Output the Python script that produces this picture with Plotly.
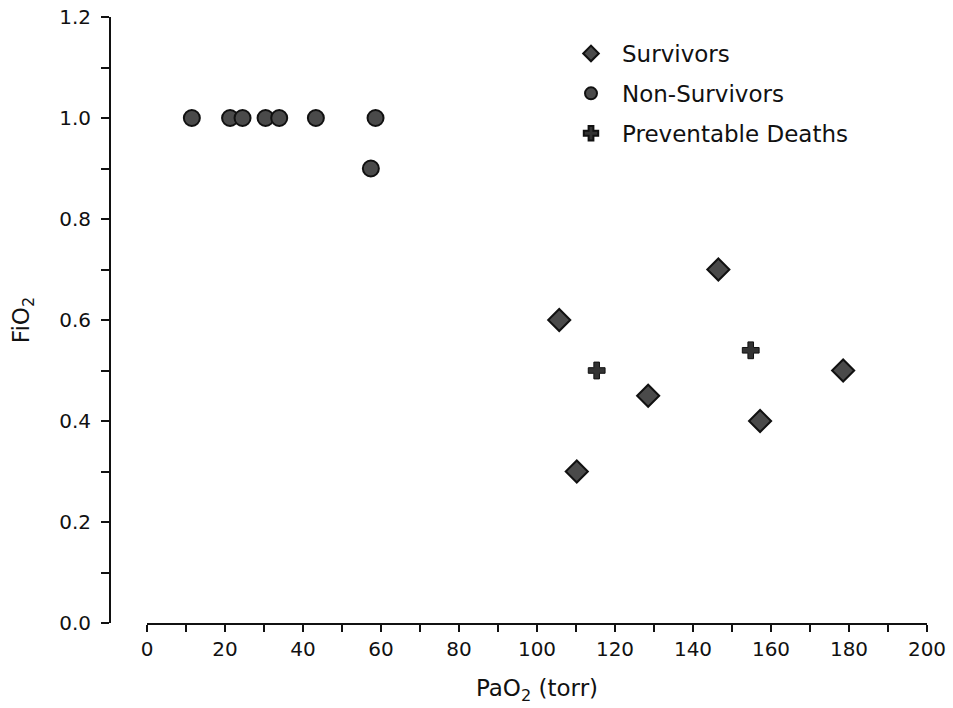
import plotly.graph_objects as go

# Data
surv_x = [105.7, 110.2, 128.5, 146.5, 157.2, 178.5]
surv_y = [0.60, 0.30, 0.45, 0.70, 0.40, 0.50]

nonsurv_x = [11.5, 21.3, 24.5, 30.4, 33.9, 43.3, 58.6, 57.4]
nonsurv_y = [1.0, 1.0, 1.0, 1.0, 1.0, 1.0, 1.0, 0.9]

prev_x = [115.3, 154.8]
prev_y = [0.50, 0.54]

x_ticks = [0, 20, 40, 60, 80, 100, 120, 140, 160, 180, 200]
y_ticks = [0.0, 0.2, 0.4, 0.6, 0.8, 1.0, 1.2]

FONT = "DejaVu Sans, Arial, sans-serif"
W, H = 953, 708
ML, MR, MT, MB = 100, 26, 17, 85
PW = W - ML - MR
PH = H - MT - MB

fig = go.Figure()
fig.add_trace(go.Scatter(
    x=surv_x, y=surv_y, mode="markers", name="Survivors", legendgroup="a",
    marker=dict(symbol="diamond", size=17, color="#4a4a4a",
                line=dict(color="#111", width=2)),
))
fig.add_trace(go.Scatter(
    x=nonsurv_x, y=nonsurv_y, mode="markers", name="Non-Survivors", legendgroup="b",
    marker=dict(symbol="circle", size=16, color="#4a4a4a",
                line=dict(color="#111", width=2)),
))
fig.add_trace(go.Scatter(
    x=prev_x, y=prev_y, mode="markers", name="Preventable Deaths", legendgroup="c",
    marker=dict(symbol="cross", size=14, color="#333",
                line=dict(color="#111", width=1)),
))

fig.update_layout(
    width=W, height=H,
    margin=dict(l=ML, r=MR, t=MT, b=MB),
    paper_bgcolor="white", plot_bgcolor="white",
    font=dict(family=FONT, size=20, color="#111"),
    showlegend=True,
    legend=dict(x=(560 - ML) / PW, y=1 - (32 - MT) / PH, xanchor="left", yanchor="top",
                bgcolor="rgba(0,0,0,0)", font=dict(size=23), tracegroupgap=7,
                itemwidth=52, itemsizing="constant"),
    xaxis=dict(
        domain=[(147 - ML) / PW, 1], range=[0, 200], automargin=False,
        showline=True, linecolor="#111", linewidth=2, mirror=False,
        showgrid=False, zeroline=False,
        tickmode="array", tickvals=x_ticks, ticktext=[str(v) for v in x_ticks],
        ticks="outside", ticklen=7, tickwidth=1.5, tickcolor="#111",
        tickfont=dict(size=20), ticklabeloverflow="allow",
        minor=dict(dtick=10, tick0=0, ticks="outside", ticklen=7, tickwidth=1.5, tickcolor="#111"),
        title=dict(text="PaO<sub>2</sub> (torr)", font=dict(size=23), standoff=20),
    ),
    yaxis=dict(
        anchor="free", position=(110 - ML) / PW, range=[0, 1.2], automargin=False,
        showline=True, linecolor="#111", linewidth=2,
        showgrid=False, zeroline=False,
        tickmode="array", tickvals=y_ticks, ticktext=["%.1f" % v for v in y_ticks],
        ticks="outside", ticklen=8, tickwidth=1.5, tickcolor="#111",
        tickfont=dict(size=20), ticklabelstandoff=6, ticklabeloverflow="allow",
        minor=dict(dtick=0.1, tick0=0, ticks="outside", ticklen=8, tickwidth=1.5, tickcolor="#111"),
        title=dict(text="FiO<sub>2</sub>", font=dict(size=23), standoff=22),
    ),
)

fig.write_html("out.html", config={"displayModeBar": False},
               post_script="document.body.style.margin='0';")
